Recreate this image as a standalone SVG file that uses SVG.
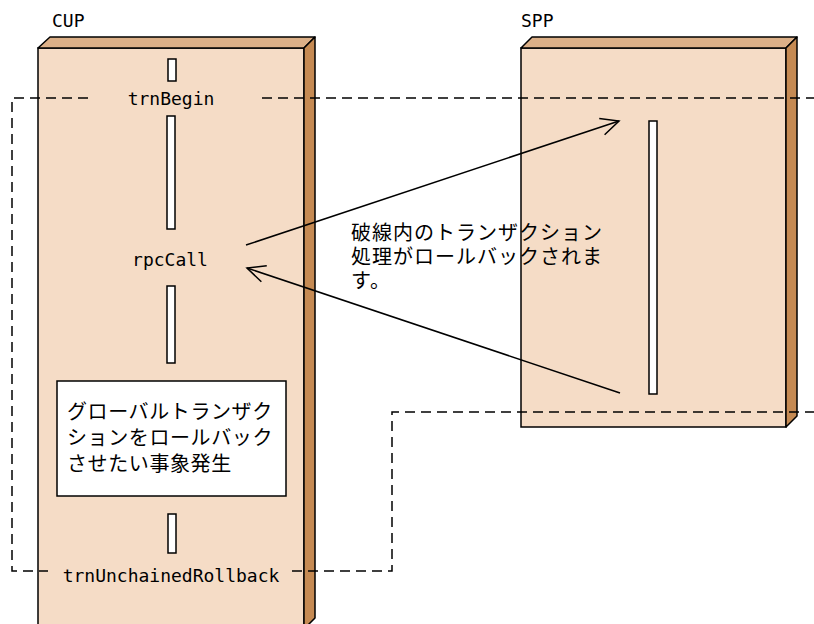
<svg xmlns="http://www.w3.org/2000/svg" width="814" height="624" viewBox="0 0 814 624">
<style>
.front{fill:#F5DCC6;stroke:#000;stroke-width:1.5}
.top{fill:#DCB088;stroke:#000;stroke-width:1.5;stroke-linejoin:round}
.side{fill:#C58A53;stroke:#000;stroke-width:1.5;stroke-linejoin:round}
.bar{fill:#fff;stroke:#000;stroke-width:1.5}
.lbl{font-family:"DejaVu Sans Mono","Liberation Mono",monospace;font-size:18px;fill:#000}
.jp{font-family:"Noto Sans CJK JP",sans-serif;font-size:20px;fill:#000}
.dash{fill:none;stroke:#000;stroke-width:1.5;stroke-dasharray:10 6}
.arr{fill:none;stroke:#000;stroke-width:1.5}
</style>
<defs>
<marker id="ah" viewBox="0 0 18 17" refX="18" refY="8.5" markerWidth="18" markerHeight="17" markerUnits="userSpaceOnUse" orient="auto" overflow="visible">
<path d="M0,0 L18,8.5 L0,17" fill="none" stroke="#000" stroke-width="1.5"/>
</marker>
</defs>
<g id="CUP">
<rect class="front" x="38" y="48" width="266" height="590"/>
<polygon class="top" points="38,48 50,37 315,37 304,48"/>
<polygon class="side" points="304,48 315,37 315,618 304,629"/>
<text class="lbl" x="52" y="27">CUP</text>
</g>
<g id="SPP">
<rect class="front" x="521" y="48" width="265" height="379"/>
<polygon class="top" points="521,48 532,37 797,37 786,48"/>
<polygon class="side" points="786,48 797,37 797,416 786,427"/>
<text class="lbl" x="521" y="27">SPP</text>
</g>
<g id="cup-bars">
<rect class="bar" x="168" y="59" width="8" height="22"/>
<rect class="bar" x="167" y="116" width="8" height="113"/>
<rect class="bar" x="167" y="286" width="8" height="77"/>
<rect class="bar" x="168" y="514" width="8" height="39"/>
</g>
<g id="spp-bar">
<rect class="bar" x="649" y="121" width="8" height="273"/>
</g>
<g id="trnBegin">
<text class="lbl" x="171" y="105" text-anchor="middle">trnBegin</text>
</g>
<g id="rpcCall">
<text class="lbl" x="170" y="266" text-anchor="middle">rpcCall</text>
</g>
<g id="trnUnchainedRollback">
<text class="lbl" x="171" y="582" text-anchor="middle">trnUnchainedRollback</text>
</g>
<g id="event">
<rect x="57" y="381" width="229" height="115" fill="#fff" stroke="#000" stroke-width="1.5"/>
<text class="jp" x="67" y="419" letter-spacing="0.6">グローバルトランザク</text>
<text class="jp" x="67" y="445" letter-spacing="0.6">ションをロールバック</text>
<text class="jp" x="67" y="471" letter-spacing="0.6">させたい事象発生</text>
</g>
<g id="note">
<text class="jp" x="351" y="240" letter-spacing="1">破線内のトランザクション</text>
<text class="jp" x="351" y="264" letter-spacing="1">処理がロールバックされま</text>
<text class="jp" x="351" y="288" letter-spacing="1">す。</text>
</g>
<g id="connectors">
<line class="arr" x1="246" y1="245" x2="619" y2="121" marker-end="url(#ah)"/>
<line class="arr" x1="620" y1="393" x2="247" y2="268" marker-end="url(#ah)"/>
<polyline class="dash" points="88,98 12,98 12,571 48,571"/>
<line class="dash" x1="262" y1="98" x2="814" y2="98"/>
<polyline class="dash" points="292,571 392,571 392,412 814,412"/>
</g>
</svg>
